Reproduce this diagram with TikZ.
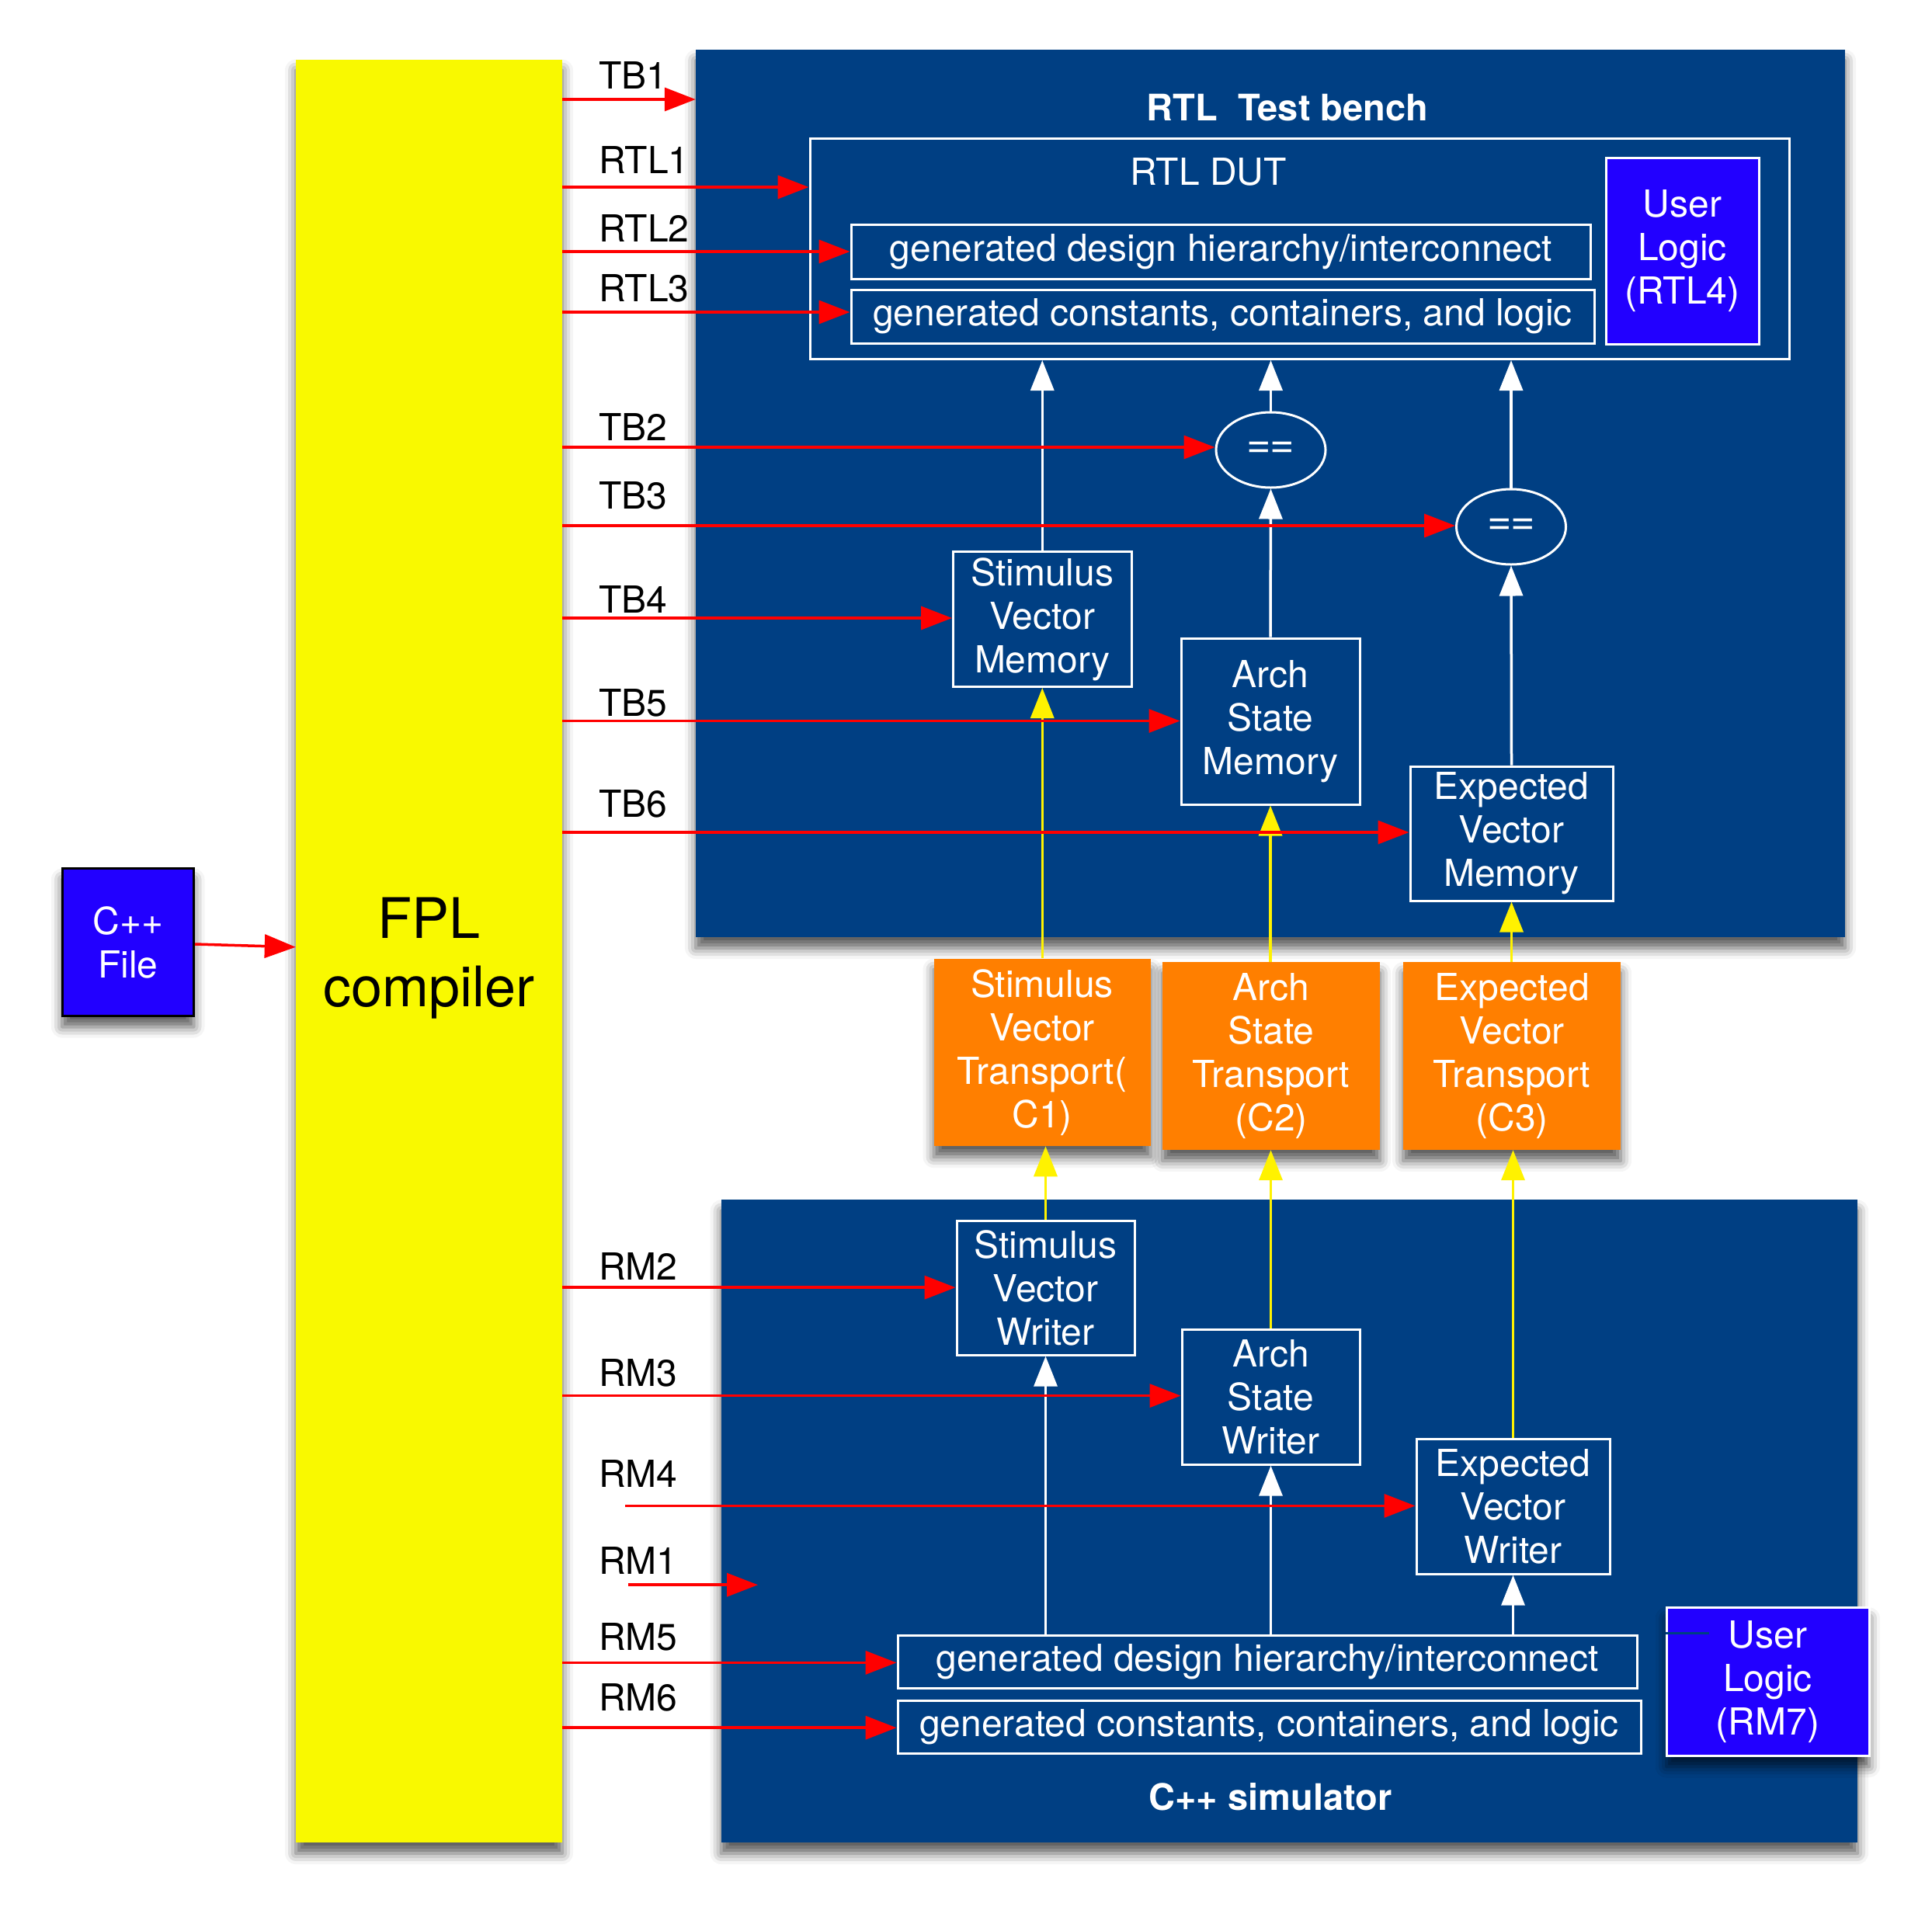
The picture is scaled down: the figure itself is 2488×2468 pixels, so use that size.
\documentclass[tikz,border=0pt]{standalone}
\usepackage{fontspec}
\setmainfont{TeX Gyre Heros}
\usetikzlibrary{arrows.meta,shapes.geometric,shadows.blur}
\definecolor{tbblue}{RGB}{0,63,131}
\definecolor{ulblue}{RGB}{34,0,255}
\definecolor{fplyellow}{RGB}{249,249,0}
\definecolor{xportorange}{RGB}{255,127,0}

\begin{document}
\begin{tikzpicture}[
    x=1pt, y=-1pt,
    every node/.style={font=\fontsize{48}{56}\selectfont, align=center, inner sep=0pt},
    dropshade/.style={blur shadow={shadow xshift=0pt, shadow yshift=-14pt, shadow blur radius=14pt, shadow opacity=65}},
    fplbar/.style={rectangle, fill=fplyellow, dropshade},
    fpltext/.style={font=\fontsize{72}{88}\selectfont, align=center, yshift=-9.5pt},
    srcfile/.style={rectangle, fill=ulblue, draw=black, line width=3pt, text=white, dropshade},
    bench/.style={rectangle, fill=tbblue, dropshade},
    title/.style={font=\bfseries\fontsize{47}{54}\selectfont, text=white, anchor=base},
    block/.style={rectangle, draw=white, line width=3pt, text=white},
    userbox/.style={block, fill=ulblue},
    eqtest/.style={ellipse, draw=white, line width=3pt, text=white, minimum width=141pt, minimum height=97pt, font=\fontsize{54}{60}\selectfont},
    transport/.style={rectangle, fill=xportorange, text=white, dropshade},
    sidelab/.style={anchor=base west, text=black},
    feed/.style={draw=red, line width=3.5pt, -{Triangle[length=40pt,width=30pt]}},
    upw/.style={draw=white, line width=3.5pt, -{Triangle[length=39pt,width=30pt]}},
    upy/.style={draw=yellow, line width=3.5pt, -{Triangle[length=39pt,width=30pt]}}
]
\useasboundingbox (0,0) rectangle (2488,2468);

\node[fplbar, minimum width=343pt, minimum height=2296.5pt, label={[fpltext]center:FPL\\compiler}] (fpl) at (552.5,1224.75) {};
\node[srcfile, minimum width=169.5pt, minimum height=190pt] (cppfile) at (164.75,1213.5) {C++\\File};

\node[bench, minimum width=1480pt, minimum height=1143pt] (rtltb) at (1636,635.5) {};
\node[title] (rtltitle) at (1658,155) {RTL\ \ Test bench};
\node[block, minimum width=1261.5pt, minimum height=284.5pt] (dut) at (1673.75,320.25) {};
\node[text=white, anchor=base] (dutlabel) at (1556,238) {RTL DUT};
\node[block, minimum width=952.5pt, minimum height=70pt] (rtlhier) at (1572.25,324) {generated design hierarchy/interconnect};
\node[block, minimum width=957pt, minimum height=69pt] (rtlconst) at (1574.5,407.5) {generated constants, containers, and logic};
\node[userbox, minimum width=197pt, minimum height=240pt] (rtluser) at (2166.5,323) {User\\Logic\\(RTL4)};
\node[eqtest] (eqa) at (1636.5,579.5) {=\kern-2pt=};
\node[eqtest] (eqb) at (1946,678.5) {=\kern-2pt=};
\node[block, minimum width=229.5pt, minimum height=174pt] (svm) at (1342.25,797.5) {Stimulus\\Vector\\Memory};
\node[block, minimum width=230pt, minimum height=214pt] (asm) at (1636,929) {Arch\\State\\Memory};
\node[block, minimum width=261pt, minimum height=173pt] (evm) at (1946.5,1073.5) {Expected\\Vector\\Memory};

\node[transport, minimum width=279pt, minimum height=241.5pt] (svt) at (1342,1355.3) {Stimulus\\Vector\\Transport(\\C1)};
\node[transport, minimum width=280pt, minimum height=242pt] (ast) at (1637,1360) {Arch\\State\\Transport\\(C2)};
\node[transport, minimum width=280pt, minimum height=242pt] (evt) at (1947,1360) {Expected\\Vector\\Transport\\(C3)};

\node[bench, minimum width=1463.3pt, minimum height=827.6pt] (cppsim) at (1660.35,1959.2) {};
\node[title] (simtitle) at (1636,2331) {C++ simulator};
\node[block, minimum width=229pt, minimum height=172.3pt] (svw) at (1346.5,1659) {Stimulus\\Vector\\Writer};
\node[block, minimum width=229pt, minimum height=174pt] (asw) at (1636.5,1799.2) {Arch\\State\\Writer};
\node[block, minimum width=249pt, minimum height=174pt] (evw) at (1948.5,1940.2) {Expected\\Vector\\Writer};
\node[block, minimum width=952pt, minimum height=67.7pt] (simhier) at (1632,2140.5) {generated design hierarchy/interconnect};
\node[block, minimum width=957pt, minimum height=68pt] (simconst) at (1634.5,2224) {generated constants, containers, and logic};
\node[userbox, dropshade, minimum width=261pt, minimum height=191pt] (simuser) at (2276.5,2165.7) {User\\Logic\\(RM7)};
\draw[tbblue, line width=3pt] (simuser.west |- 0,2103) -- +(56,0);

\draw[upw] (svm.north) -- (svm.north |- dut.south);
\draw[upw] (eqa.north) -- (eqa.north |- dut.south);
\draw[upw] (eqb.north) -- (eqb.north |- dut.south);
\draw[upw] (asm.north) -- (eqa.south);
\draw[upw] (evm.north) -- (eqb.south);
\draw[upw] (simhier.north -| svw.south) -- (svw.south);
\draw[upw] (simhier.north -| asw.south) -- (asw.south);
\draw[upw] (simhier.north -| evw.south) -- (evw.south);

\draw[upy] (svm.south |- svt.north) -- (svm.south);
\draw[upy] (asm.south |- ast.north) -- (asm.south);
\draw[upy] (evm.south |- evt.north) -- (evm.south);
\draw[upy] (svw.north) -- (svw.north |- svt.south);
\draw[upy] (asw.north) -- (asw.north |- ast.south);
\draw[upy] (evw.north) -- (evw.north |- evt.south);

\draw[feed] (cppfile) -- (fpl);
\foreach \lab/\y/\base/\dst in {TB1/128/114/rtltb, RTL1/241/223/dut, RTL2/324/311/rtlhier, RTL3/402/388/rtlconst,
    TB2/576/567/eqa, TB3/677/655/eqb, TB4/796/789/svm, TB5/928.5/922/asm, TB6/1072/1052/evm,
    RM2/1658.2/1648.8/svw, RM3/1797.6/1785.9/asw, RM5/2141.4/2125/simhier, RM6/2225.2/2203.3/simconst}
{
    \node[sidelab] (l\lab) at (771,\base) {\lab};
    \draw[feed] (fpl.east |- 0,\y) -- (\dst.west |- 0,\y);
}
\node[sidelab] (lRM4) at (771,1915.1) {RM4};
\coordinate (rm4in) at (805,1939.4);
\draw[feed] (rm4in) -- (evw.west |- rm4in);
\node[sidelab] (lRM1) at (771,2027.1) {RM1};
\coordinate (rm1in) at (809,2041.2);
\coordinate (rm1out) at (976,2041.2);
\draw[feed] (rm1in) -- (rm1out);

\end{tikzpicture}
\end{document}
